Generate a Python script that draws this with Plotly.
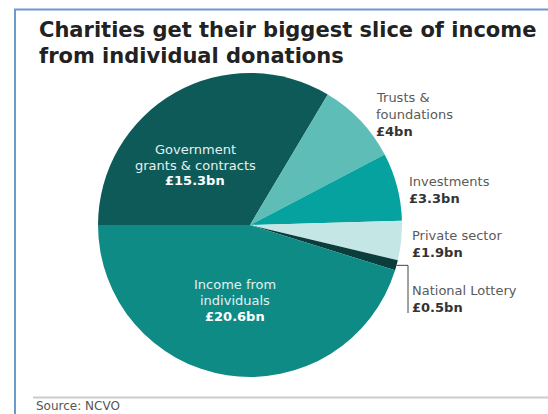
import math
import plotly.graph_objects as go

W, H = 548, 414

# Charity income by source (UK, £bn), in slice order starting at 9 o'clock, clockwise
sources = [
    "Government grants & contracts",
    "Trusts & foundations",
    "Investments",
    "Private sector",
    "National Lottery",
    "Income from individuals",
]
income_bn = [15.3, 4.0, 3.3, 1.9, 0.5, 20.6]
label_lines = [
    ["Government", "grants & contracts"],
    ["Trusts &", "foundations"],
    ["Investments"],
    ["Private sector"],
    ["National Lottery"],
    ["Income from", "individuals"],
]
slice_colors = ["#0e5a58", "#5ebdb6", "#05a29f", "#c4e6e4", "#0b3d3c", "#0f8b86"]

title_lines = ["Charities get their biggest slice of income", "from individual donations"]
source_note = "Source: NCVO"

FONT = "DejaVu Sans, Liberation Sans, Arial, sans-serif"


def px(x):
    return x / W


def py(y):
    return 1 - y / H


# pie placement in pixels
cx, cy, r = 250, 225, 152

fig = go.Figure(
    go.Pie(
        labels=sources,
        values=income_bn,
        sort=False,
        direction="clockwise",
        rotation=-90,
        textinfo="none",
        hoverinfo="label+value",
        marker=dict(colors=slice_colors, line=dict(color="white", width=0)),
        domain=dict(x=[px(cx - r), px(cx + r)], y=[py(cy + r), py(cy - r)]),
        showlegend=False,
    )
)

annotations = []


def add_label(lines, value, x, ys, anchor, name_color, value_color, size=13):
    texts = lines + [f"<b>£{value:g}bn</b>"]
    for i, (t, yy) in enumerate(zip(texts, ys)):
        annotations.append(
            dict(
                text=t,
                x=px(x),
                y=py(yy),
                xref="paper",
                yref="paper",
                xanchor=anchor,
                yanchor="middle",
                showarrow=False,
                borderpad=0,
                font=dict(
                    family=FONT,
                    size=size,
                    color=value_color if i == len(texts) - 1 else name_color,
                ),
            )
        )


inside_name = "#e3f1f0"
outside_name = "#5a5a5a"
outside_value = "#333333"

add_label(label_lines[0], income_bn[0], 195, [149, 165, 181], "center", inside_name, "#ffffff")
add_label(label_lines[5], income_bn[5], 235, [284, 300, 316], "center", inside_name, "#ffffff")
add_label(label_lines[1], income_bn[1], 375, [97.5, 114, 131], "left", outside_name, outside_value)
add_label(label_lines[2], income_bn[2], 408, [182, 198.5], "left", outside_name, outside_value)
add_label(label_lines[3], income_bn[3], 411, [235, 252], "left", outside_name, outside_value)
add_label(label_lines[4], income_bn[4], 411, [290, 307], "left", outside_name, outside_value)

# title
for t, yy in zip(title_lines, [30.5, 55.5]):
    annotations.append(
        dict(
            text=f"<b>{t}</b>",
            x=px(38),
            y=py(yy),
            xref="paper",
            yref="paper",
            xanchor="left",
            yanchor="middle",
            showarrow=False,
            borderpad=0,
            font=dict(family=FONT, size=21, color="#222222"),
        )
    )

# source note
annotations.append(
    dict(
        text=source_note,
        x=px(35),
        y=py(406),
        xref="paper",
        yref="paper",
        xanchor="left",
        yanchor="middle",
        showarrow=False,
        borderpad=0,
        font=dict(family=FONT, size=12, color="#555555"),
    )
)

# leader line from the National Lottery slice to its label
total = sum(income_bn)
before = sum(income_bn[:4])
mid_frac = (before + income_bn[4] / 2) / total
ang = math.radians(-90 + 360 * mid_frac)
lx = cx + r * math.sin(ang)
ly = cy - r * math.cos(ang)
leader_x = 408

shapes = [
    # frame
    dict(type="line", xref="paper", yref="paper", x0=px(15), x1=px(15), y0=py(9), y1=py(H),
         line=dict(color="#6a9bc9", width=2)),
    dict(type="line", xref="paper", yref="paper", x0=px(14), x1=px(W), y0=py(9.5), y1=py(9.5),
         line=dict(color="#6a9bc9", width=2)),
    # footer rule
    dict(type="line", xref="paper", yref="paper", x0=px(33), x1=px(W), y0=py(397.5), y1=py(397.5),
         line=dict(color="#cccccc", width=2)),
    # leader
    dict(type="path", xref="paper", yref="paper",
         path=f"M {px(lx)} {py(ly)} L {px(leader_x)} {py(ly)} L {px(leader_x)} {py(313)}",
         line=dict(color="#444444", width=1)),
]

fig.update_layout(
    width=W,
    height=H,
    margin=dict(l=0, r=0, t=0, b=0),
    paper_bgcolor="white",
    plot_bgcolor="white",
    annotations=annotations,
    shapes=shapes,
)

fig.write_html("out.html")
